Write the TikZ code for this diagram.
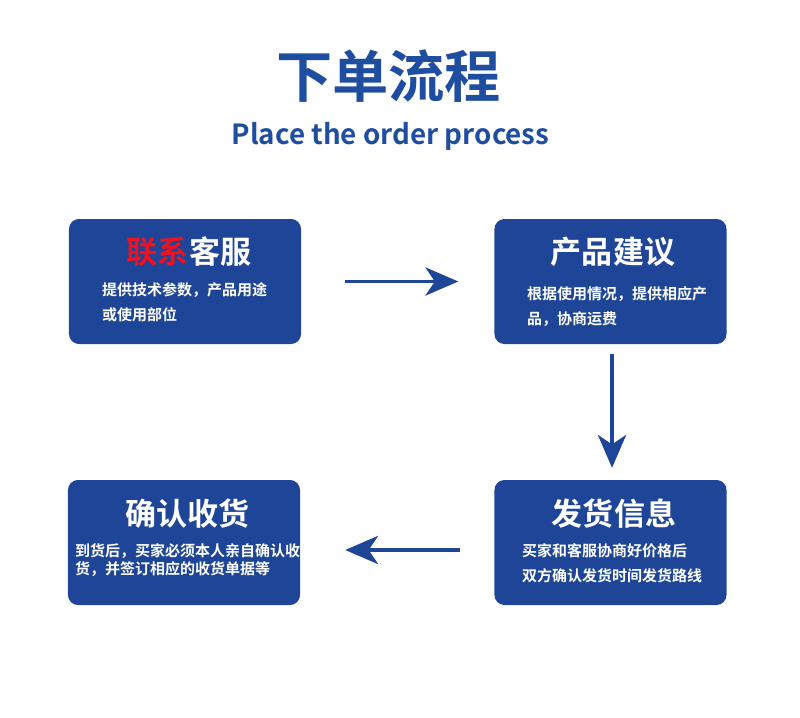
\documentclass[tikz,border=0pt]{standalone}
\usepackage{fontspec}
\newfontfamily\cjkbold{Noto Sans CJK SC Bold}
\usetikzlibrary{arrows.meta}
\definecolor{cardblue}{RGB}{30,69,152}
\definecolor{headblue}{RGB}{31,77,160}
\definecolor{hotred}{RGB}{236,18,32}
\begin{document}
\begin{tikzpicture}[x=0.03cm,y=-0.03cm,
  card/.style={draw=none,fill=cardblue,rounded corners=8.5pt,minimum width=6.96cm,minimum height=3.75cm,inner sep=0pt},
  cardhead/.style={text=white,anchor=base,inner sep=0pt,font=\cjkbold\fontsize{26.5}{30}\selectfont},
  cardline/.style={text=white,anchor=base west,inner sep=0pt,font=\cjkbold\fontsize{12.8}{15}\selectfont},
  flow/.style={draw=cardblue,line width=3.4pt,-{Stealth[length=28pt,width=24pt,inset=8pt]}}]
\useasboundingbox (0,0) rectangle (800,718);
% heading
\node[anchor=base,inner sep=0pt,text=headblue,font=\cjkbold\fontsize{48}{52}\selectfont] (head) at (388.5,97) {下单流程};
\node[anchor=base,inner sep=0pt,text=headblue,font=\cjkbold\fontsize{23.7}{28}\selectfont] (subhead) at (390.5,144) {Place the order process};
% the four steps
\node[card] (contact) at (185,281.5) {};
\node[card] (advice) at (610.5,281.5) {};
\node[card] (info) at (610.5,542.5) {};
\node[card] (confirm) at (184,542.5) {};
\node[cardhead] (contactT) at (189,263) {\textcolor{hotred}{联系}客服};
\node[cardline] (contactA) at (102,295) {提供技术参数，产品用途};
\node[cardline] (contactB) at (102,320) {或使用部位};
\node[cardhead] (adviceT) at (613,263) {产品建议};
\node[cardline] (adviceA) at (527,299) {根据使用情况，提供相应产};
\node[cardline] (adviceB) at (527,324) {品，协商运费};
\node[cardhead] (infoT) at (614,525) {发货信息};
\node[cardline] (infoA) at (522,556) {买家和客服协商好价格后};
\node[cardline] (infoB) at (522,581) {双方确认发货时间发货路线};
\node[cardhead] (confirmT) at (187.5,525) {确认收货};
\node[cardline] (confirmA) at (75,556) {到货后，买家必须本人亲自确认收};
\node[cardline] (confirmB) at (75,574.5) {货，并签订相应的收货单据等};
% arrows
\draw[flow,shorten <=37.6pt,shorten >=30.7pt] (contact) -- (advice);
\draw[flow,shorten <=8.5pt,shorten >=10.2pt] ([xshift=1.3pt]advice.south) -- ([xshift=1.3pt]info.north);
\draw[flow,shorten <=29pt,shorten >=38.4pt] ([yshift=-6.4pt]info.west) -- ([yshift=-6.4pt]confirm.east);
\end{tikzpicture}
\end{document}
